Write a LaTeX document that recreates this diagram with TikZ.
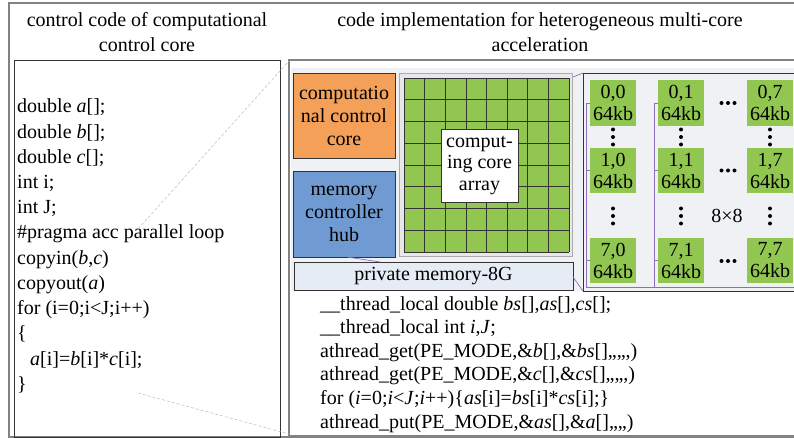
\documentclass[tikz,border=0pt]{standalone}
\usepackage{fontspec}
\setmainfont{Liberation Serif}
\definecolor{orangec}{RGB}{244,160,88}
\definecolor{bluec}{RGB}{112,155,210}
\definecolor{greenc}{RGB}{145,198,80}
\definecolor{panelc}{RGB}{240,241,244}
\definecolor{memc}{RGB}{230,236,246}
\definecolor{busc}{RGB}{142,108,190}
\definecolor{framec}{RGB}{130,130,130}
\begin{document}
\begin{tikzpicture}[x=1pt,y=-1pt,
  txt/.style={inner sep=0pt, font=\fontsize{20}{24}\selectfont},
  codeline/.style={txt, anchor=base west},
  titleline/.style={txt, anchor=base},
  boxed/.style={draw=black!80, line width=0.6pt, align=center, inner sep=0pt},
  cellbox/.style={fill=greenc, inner sep=0pt, minimum width=46pt, minimum height=45pt, align=center, font=\fontsize{20}{22}\selectfont},
  zoomdash/.style={draw=gray!55, dashed, dash pattern=on 3pt off 2pt, line width=0.5pt},
  bus/.style={draw=busc, line width=0.7pt},
  dotc/.style={fill=black}]
\useasboundingbox (0,0) rectangle (794,438);

% frames
\draw[draw=framec, line width=1.2pt] (9,3) rectangle (820,437);
\draw[draw=black!80, line width=0.7pt] (14,60) rectangle (280,437);
\draw[draw=framec, line width=1.2pt] (289,60) rectangle (820,436);

% titles
\node[titleline] (tl1) at (147,27) {control code of computational};
\node[titleline] (tl2) at (147,52) {control core};
\node[titleline] (tr1) at (540,27) {code implementation for heterogeneous multi-core};
\node[titleline] (tr2) at (540,52) {acceleration};

% left code
\node[codeline] (c1) at (17,113.0) {double \textit{a}[];};
\node[codeline] (c2) at (17,138.2) {double \textit{b}[];};
\node[codeline] (c3) at (17,163.4) {double \textit{c}[];};
\node[codeline] (c4) at (17,188.6) {int i;};
\node[codeline] (c5) at (17,213.8) {int J;};
\node[codeline] (c6) at (17,239.0) {\#pragma acc parallel loop};
\node[codeline] (c7) at (17,264.2) {copyin(\textit{b},\textit{c})};
\node[codeline] (c8) at (17,289.4) {copyout(\textit{a})};
\node[codeline] (c9) at (17,314.6) {for (i=0;i<J;i++)};
\node[codeline] (c10) at (17,339.8) {\{};
\node[codeline] (c11) at (30,365.0) {\textit{a}[i]=\textit{b}[i]*\textit{c}[i];};
\node[codeline] (c12) at (17,390.2) {\}};

% right panel background
\fill[panelc] (291,68) rectangle (800,291);

% orange and blue boxes
\node[boxed, fill=orangec, minimum width=102pt, minimum height=85pt, font=\fontsize{20}{23}\selectfont] (ccc) at (344,115.5) {computatio\\nal control\\core};
\node[boxed, fill=bluec, minimum width=102pt, minimum height=86pt, font=\fontsize{20}{23}\selectfont] (mch) at (344,214) {memory\\controller\\hub};
\node[boxed, fill=memc, minimum width=279pt, minimum height=28pt, font=\fontsize{20}{23}\selectfont] (pm) at (433.5,276) {private memory-8G};

% core array
\node[draw=gray!65, fill=gray!18, line width=1.6pt, minimum width=173pt, minimum height=183pt, inner sep=0pt] (arr) at (486,165) {};
\fill[greenc] (404,78) rectangle (569,252);
\foreach \i in {0,...,8} {
  \draw[black!80, line width=0.6pt] ({404+\i*165/8},78) -- ({404+\i*165/8},252);
  \draw[black!80, line width=0.6pt] (404,{78+\i*174/8}) -- (569,{78+\i*174/8});
}
\node[boxed, fill=white, minimum width=77pt, minimum height=73pt, font=\fontsize{20}{21.5}\selectfont] (cca) at (479.5,165.5) {comput-\\ing core\\array};

% zoomed cells box
\draw[draw=black!80, line width=0.7pt, fill=panelc] (583,73) rectangle (820,291);
\coordinate (bA0) at (586,103);
\coordinate (bA1) at (586,287);
\coordinate (bB0) at (654,103);
\coordinate (bB1) at (654,287);
\coordinate (bE) at (800,287);
\draw[bus] (bA0) -- (bA1) -- (bE);
\draw[bus] (bB0) -- (bB1);
\foreach \yy in {103,170.5,260.5} {
  \draw[bus] (586,\yy) -- (590,\yy);
  \draw[bus] (654,\yy) -- (658,\yy);
}

\node[cellbox, minimum height=46pt] (k00) at (613,103) {0,0\\64kb};
\node[cellbox, minimum height=46pt] (k01) at (681,103) {0,1\\64kb};
\node[cellbox, minimum height=46pt] (k07) at (770,103) {0,7\\64kb};
\node[cellbox] (k10) at (613,170.5) {1,0\\64kb};
\node[cellbox] (k11) at (681,170.5) {1,1\\64kb};
\node[cellbox] (k17) at (770,170.5) {1,7\\64kb};
\node[cellbox] (k70) at (613,260.5) {7,0\\64kb};
\node[cellbox] (k71) at (681,260.5) {7,1\\64kb};
\node[cellbox] (k77) at (770,260.5) {7,7\\64kb};

% vertical dots
\foreach \xx in {613,681,770} {
  \foreach \yy in {129.5,137,144.5,208.5,216,223.5} {
    \fill[dotc] (\xx,\yy) circle (2pt);
  }
}
% horizontal dots
\foreach \yy in {103,170.5,261} {
  \foreach \xx in {721.5,728,734.5} {
    \fill[dotc] (\xx,\yy) circle (2pt);
  }
}
\node[txt] (ee) at (727,216) {8×8};

% zoom connectors (purple)
\coordinate (z1a) at (573,77);
\coordinate (z1b) at (583,73);
\coordinate (z2a) at (573,277);
\coordinate (z2b) at (583,291);
\draw[bus] (z1a) -- (z1b);
\draw[bus] (z2a) -- (z2b);
\coordinate (z3a) at (347,257);
\coordinate (z3b) at (380,262);
\draw[bus] (z3a) -- (z3b);

% right code
\node[codeline] (r1) at (320,310) {\_\_thread\_local double \textit{bs}[],\textit{as}[],\textit{cs}[];};
\node[codeline] (r2) at (320,333.6) {\_\_thread\_local int \textit{i},\textit{J};};
\node[codeline] (r3) at (320,357.2) {athread\_get(PE\_MODE,\&\textit{b}[],\&\textit{bs}[],,,,,)};
\node[codeline] (r4) at (320,380.8) {athread\_get(PE\_MODE,\&\textit{c}[],\&\textit{cs}[],,,,,)};
\node[codeline] (r5) at (320,404.4) {for (\textit{i}=0;\textit{i}<\textit{J};\textit{i}++)\{\textit{as}[i]=\textit{bs}[i]*\textit{cs}[i];\}};
\node[codeline] (r6) at (320,428) {athread\_put(PE\_MODE,\&\textit{as}[],\&\textit{a}[],,,,)};

% dashed zoom lines
\coordinate (d1a) at (138,229);
\coordinate (d1b) at (289,61);
\coordinate (d2a) at (138,393);
\coordinate (d2b) at (289,434);
\draw[zoomdash] (d1a) -- (d1b);
\draw[zoomdash] (d2a) -- (d2b);
\end{tikzpicture}
\end{document}
